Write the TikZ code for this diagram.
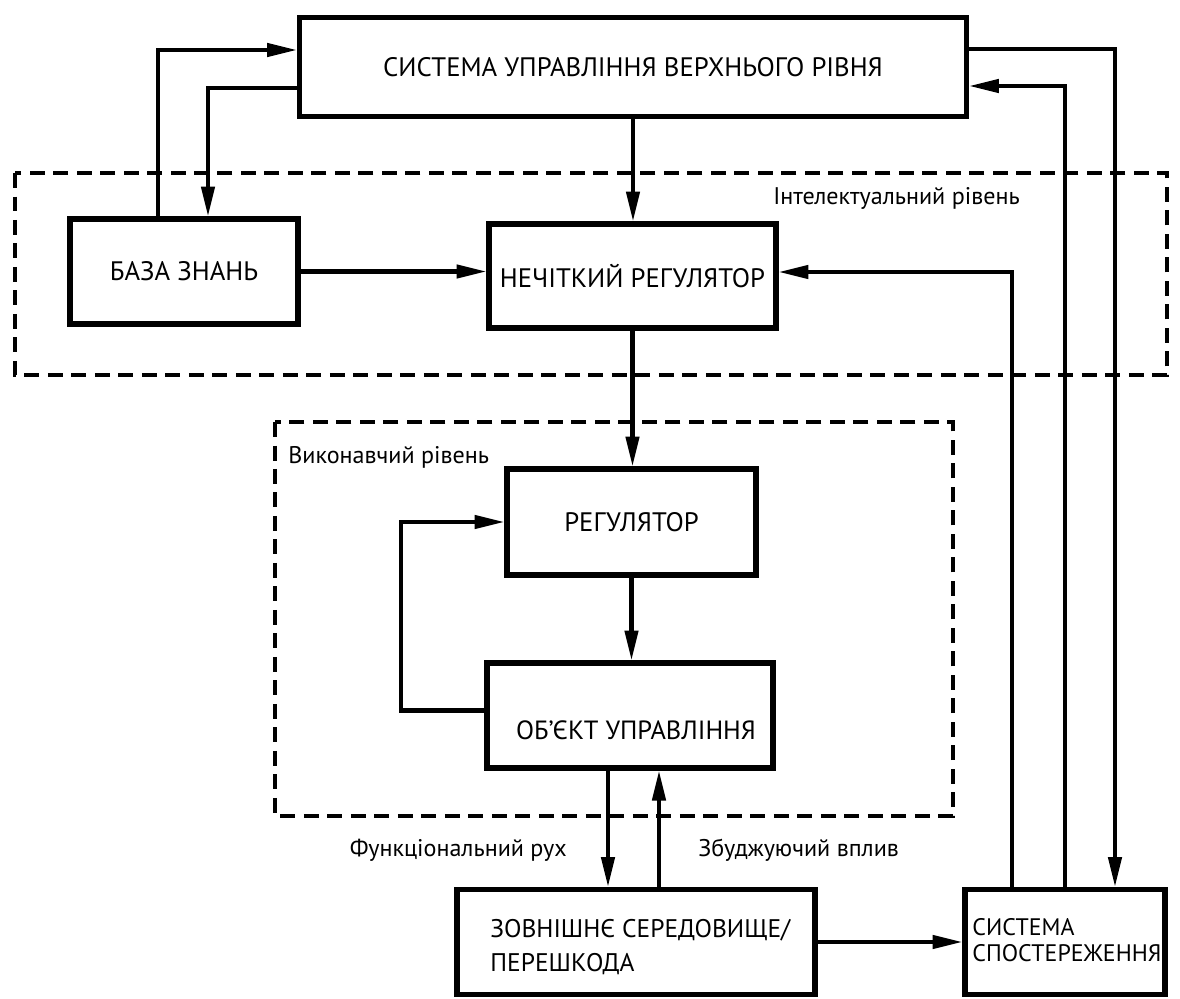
\documentclass[tikz,border=0pt]{standalone}
\usepackage{fontspec}
\setmainfont{PT Sans}
\usetikzlibrary{arrows.meta,positioning,calc}

\begin{document}
\begin{tikzpicture}[
  x=0.02cm, y=-0.02cm,
  ctrlbox/.style={draw,line width=3pt,inner sep=0pt,align=center,
    font=\fontsize{15.2}{17}\selectfont},
  boxtext/.style={inner sep=0pt,align=left,font=\fontsize{14.5}{19.8}\selectfont},
  lvlframe/.style={draw,line width=2pt,dash pattern=on 0.3cm off 0.17cm},
  lvltext/.style={inner sep=0pt,font=\fontsize{13.7}{16}\selectfont},
  flow/.style={line width=2.3pt,-{Triangle[length=17pt,width=7.5pt]}}
]
  \useasboundingbox (0,0) rectangle (1180,998);

  % level frames
  \draw[lvlframe] (15,173) rectangle (1167,375);
  \draw[lvlframe] (275,422) rectangle (953,816);
  \node[lvltext,anchor=west] (intlvl) at (773,198) {Інтелектуальний рівень};
  \node[lvltext,anchor=west] (execlvl) at (288,457) {Виконавчий рівень};

  % blocks
  \node[ctrlbox,minimum width=13.34cm,minimum height=1.98cm] (upper) at (633,67)
    {СИСТЕМА УПРАВЛІННЯ ВЕРХНЬОГО РІВНЯ};
  \node[ctrlbox,minimum width=4.56cm,minimum height=2.1cm] (baza) at (184,271.5)
    {БАЗА ЗНАНЬ};
  \node[ctrlbox,minimum width=5.74cm,minimum height=2.08cm] (fuzzy) at (632.5,276)
    {НЕЧІТКИЙ РЕГУЛЯТОР};
  \node[ctrlbox,minimum width=4.98cm,minimum height=2.12cm] (reg) at (631.5,522)
    {РЕГУЛЯТОР};
  \node[ctrlbox,minimum width=5.72cm,minimum height=2.1cm] (obj) at (630,715.5) {};
  \node[boxtext,font=\fontsize{15}{18}\selectfont] (objtext) at (636,730) {ОБ’ЄКТ УПРАВЛІННЯ};
  \node[ctrlbox,minimum width=7.16cm,minimum height=2.1cm] (env) at (636,942) {};
  \node[boxtext,anchor=west] (envtext) at (490,947)
    {ЗОВНІШНЄ СЕРЕДОВИЩЕ/\\ПЕРЕШКОДА};
  \node[ctrlbox,minimum width=4.0cm,minimum height=2.1cm] (obs) at (1065,942) {};
  \node[boxtext,anchor=west,font=\fontsize{13.6}{14.7}\selectfont] (obstext) at (972,940)
    {СИСТЕМА\\СПОСТЕРЕЖЕННЯ};

  % upper level links
  \draw[flow] ([xshift=-0.52cm]baza.north) |- ([yshift=0.34cm]upper.west);
  \draw[flow] ([yshift=-0.42cm]upper.west) -| ([xshift=0.48cm]baza.north);
  \draw[flow] (upper.south) -- (upper.south |- fuzzy.north);
  \draw[flow] (baza.east) -- (baza.east -| fuzzy.west);

  % observation feedback
  \draw[flow] ([yshift=0.36cm]upper.east) -| ([xshift=1cm]obs.north);
  \draw[flow] (obs.north) |- ([yshift=-0.38cm]upper.east);
  \draw[flow] ([xshift=-1.06cm]obs.north) |- ([yshift=0.08cm]fuzzy.east);

  % executive level
  \draw[flow] (fuzzy.south) -- (fuzzy.south |- reg.north);
  \draw[flow] (reg.south) -- (reg.south |- obj.north);
  \draw[flow] ([yshift=0.1cm]obj.west) -- ++(-83,0) |- (reg.west);

  % environment
  \draw[flow] ([xshift=-0.44cm]obj.south) -- ([xshift=-0.44cm]obj.south |- env.north);
  \draw[flow] ([xshift=0.58cm]obj.south |- env.north) -- ([xshift=0.58cm]obj.south);
  \draw[flow] (env.east) -- (obs.west);
  \node[lvltext,anchor=east] (funclbl) at (567,850) {Функціональний рух};
  \node[lvltext,anchor=west] (disturblbl) at (698,850) {Збуджуючий вплив};
\end{tikzpicture}
\end{document}
